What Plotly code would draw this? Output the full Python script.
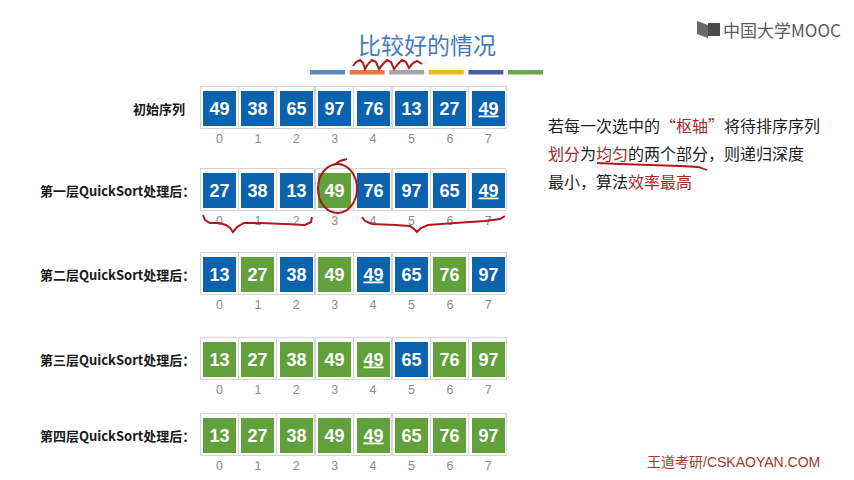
import plotly.graph_objects as go

# ---- data ----
row_labels = ["初始序列", "第一层QuickSort处理后：", "第二层QuickSort处理后：",
              "第三层QuickSort处理后：", "第四层QuickSort处理后："]
rows = [
    [49, 38, 65, 97, 76, 13, 27, 49],
    [27, 38, 13, 49, 76, 97, 65, 49],
    [13, 27, 38, 49, 49, 65, 76, 97],
    [13, 27, 38, 49, 49, 65, 76, 97],
    [13, 27, 38, 49, 49, 65, 76, 97],
]
# 1 = element already in its final place (green), 0 = still unsorted (blue)
fixed = [
    [0, 0, 0, 0, 0, 0, 0, 0],
    [0, 0, 0, 1, 0, 0, 0, 0],
    [0, 1, 0, 1, 0, 0, 1, 0],
    [1, 1, 1, 1, 1, 0, 1, 1],
    [1, 1, 1, 1, 1, 1, 1, 1],
]
# position of the second (underlined) 49 in every row
marked = [7, 7, 4, 4, 4]
indices = list(range(8))

# ---- layout constants (pixels) ----
W, H = 854, 480
row_y = [108, 190, 274, 359, 435]
X0, PITCH = 219.5, 38.4          # pixel centre of index 0, spacing between cells
CELL_W, CELL_H = 33, 35
FRAME_W, FRAME_H = 38, 42
BLUE, GREEN = "#0b62ad", "#62a03c"
RED = "#b3161c"
TXT_RED = "#a8262b"
CJK = "Noto Sans CJK SC"


def px(x):
    return x / W


def path(points):
    return "M " + " L ".join(f"{px(x):.5f},{y}" for x, y in points)


xs, bases, colors, texts = [], [], [], []
for r, vals in enumerate(rows):
    for i, v in enumerate(vals):
        xs.append(i)
        bases.append(row_y[r])
        colors.append(GREEN if fixed[r][i] else BLUE)
        t = f"<b>{v}</b>"
        if i == marked[r]:
            t = f"<b><u>{v}</u></b>"
        texts.append(t)

fig = go.Figure()

# light grey frame around every cell
fig.add_trace(go.Bar(
    x=xs, y=[FRAME_H] * len(xs), base=[b - FRAME_H / 2 for b in bases],
    width=FRAME_W / PITCH,
    marker=dict(color="white", line=dict(color="#d4d4d4", width=1)),
    hoverinfo="skip", showlegend=False,
))
# coloured cells with their numbers
fig.add_trace(go.Bar(
    x=xs, y=[CELL_H] * len(xs), base=[b - CELL_H / 2 for b in bases],
    width=CELL_W / PITCH,
    marker=dict(color=colors, line=dict(width=0)),
    text=texts, textposition="inside", insidetextanchor="middle", textangle=0,
    textfont=dict(family="Liberation Sans", size=18, color="white"),
    hoverinfo="skip", showlegend=False,
))
# index numbers below each row
fig.add_trace(go.Scatter(
    x=indices * len(rows),
    y=[y + 32 for y in row_y for _ in indices],
    text=[str(i) for _ in rows for i in indices],
    mode="text", textfont=dict(family="Liberation Sans", size=12.5, color="#8c8c8c"),
    hoverinfo="skip", showlegend=False,
))

annotations = []
for r, lab in enumerate(row_labels):
    right = 187 if r == 0 else 197
    annotations.append(dict(
        x=px(right), y=row_y[r], xref="paper", yref="y", xanchor="right", yanchor="middle",
        text=f"<b>{lab}</b>", showarrow=False,
        font=dict(family=CJK, size=13, color="#1a1a1a"),
    ))

annotations.append(dict(
    x=px(427), y=44, xref="paper", yref="y", text="比较好的情况", showarrow=False,
    font=dict(family=CJK, size=23, color="#3f7dc0"), xanchor="center", yanchor="middle",
))

r = f'<span style="color:{TXT_RED}">'
para = [
    f"若每一次选中的{r}“枢轴”</span>将待排序序列",
    f"{r}划分</span>为{r}均匀</span>的两个部分，则递归深度",
    f"最小，算法{r}效率最高</span>",
]
for k, line in enumerate(para):
    annotations.append(dict(
        x=px(546), y=125 + 28 * k, xref="paper", yref="y", xanchor="left", yanchor="middle",
        text=line, showarrow=False, font=dict(family=CJK, size=16, color="#1c1c1c"),
    ))

annotations.append(dict(
    x=px(822), y=462, xref="paper", yref="y", xanchor="right", yanchor="middle",
    text="王道考研/CSKAOYAN.COM", showarrow=False,
    font=dict(family="Liberation Sans, " + CJK, size=14, color="#9e3a26"),
))
annotations.append(dict(
    x=px(721), y=29, xref="paper", yref="y", xanchor="left", yanchor="middle",
    text="中国大学MOOC", showarrow=False,
    font=dict(family=CJK, size=17, color="#5a5a5a"),
))

shapes = []
# coloured strip under the title
strip = ["#5b8ac0", "#e27b3b", "#a6a6a6", "#f0b62c", "#3f5fab", "#69a84b"]
for k, c in enumerate(strip):
    x0 = 310 + 39.6 * k
    shapes.append(dict(type="rect", xref="paper", yref="y", x0=px(x0), x1=px(x0 + 35),
                       y0=70, y1=74.5, fillcolor=c, line=dict(width=0)))

# MOOC logo icon
shapes.append(dict(type="path", xref="paper", yref="y",
                   path=path([(697, 21), (708, 25), (708, 38), (697, 34)]) + " Z",
                   fillcolor="#6a6a6a", line=dict(width=0)))
shapes.append(dict(type="rect", xref="paper", yref="y", x0=px(708), x1=px(720),
                   y0=23, y1=36, fillcolor="#4a4a4a", line=dict(width=0)))

# red hand-drawn marks
hand = dict(color=RED, width=2)
squiggle = [(353, 66), (356, 62), (360, 60), (363, 63), (365, 69), (368, 64), (372, 60),
            (376, 62), (379, 69), (383, 64), (387, 60), (391, 62), (394, 69), (398, 64),
            (402, 60), (406, 62), (409, 68), (413, 63), (417, 61), (422, 64)]
shapes.append(dict(type="path", xref="paper", yref="y", path=path(squiggle), line=hand))
shapes.append(dict(type="circle", xref="paper", yref="y", x0=px(318), x1=px(357),
                   y0=164, y1=213, line=hand))
shapes.append(dict(type="path", xref="paper", yref="y",
                   path=path([(334, 165), (340, 161), (347, 159)]), line=hand))
left_brace = [(203, 215), (205, 220), (210, 223), (219, 223), (226, 225), (230, 228),
              (233, 232), (237, 227), (244, 223), (260, 223), (285, 224), (305, 225),
              (311, 222), (312, 217)]
right_brace = [(362, 217), (365, 221), (372, 224), (395, 225), (410, 226), (414, 229),
               (417, 232), (421, 228), (428, 225), (455, 223), (485, 221), (500, 219),
               (505, 216)]
shapes.append(dict(type="path", xref="paper", yref="y", path=path(left_brace), line=hand))
shapes.append(dict(type="path", xref="paper", yref="y", path=path(right_brace), line=hand))
shapes.append(dict(type="path", xref="paper", yref="y",
                   path=path([(597, 163), (620, 164), (650, 165), (680, 166), (698, 167), (707, 170)]),
                   line=dict(color=RED, width=1.8)))

fig.update_layout(
    width=W, height=H, autosize=False,
    margin=dict(l=0, r=0, t=0, b=0),
    paper_bgcolor="white", plot_bgcolor="white",
    barmode="overlay", bargap=0,
    xaxis=dict(range=[-X0 / PITCH, (W - X0) / PITCH], visible=False, fixedrange=True),
    yaxis=dict(range=[H, 0], visible=False, fixedrange=True),
    annotations=annotations, shapes=shapes,
    showlegend=False,
)

# drop the default page margin so the 854x480 figure fills the window
fig.write_html("out.html", config={"displayModeBar": False},
               post_script="document.body.style.margin='0';document.body.style.overflow='hidden';")
